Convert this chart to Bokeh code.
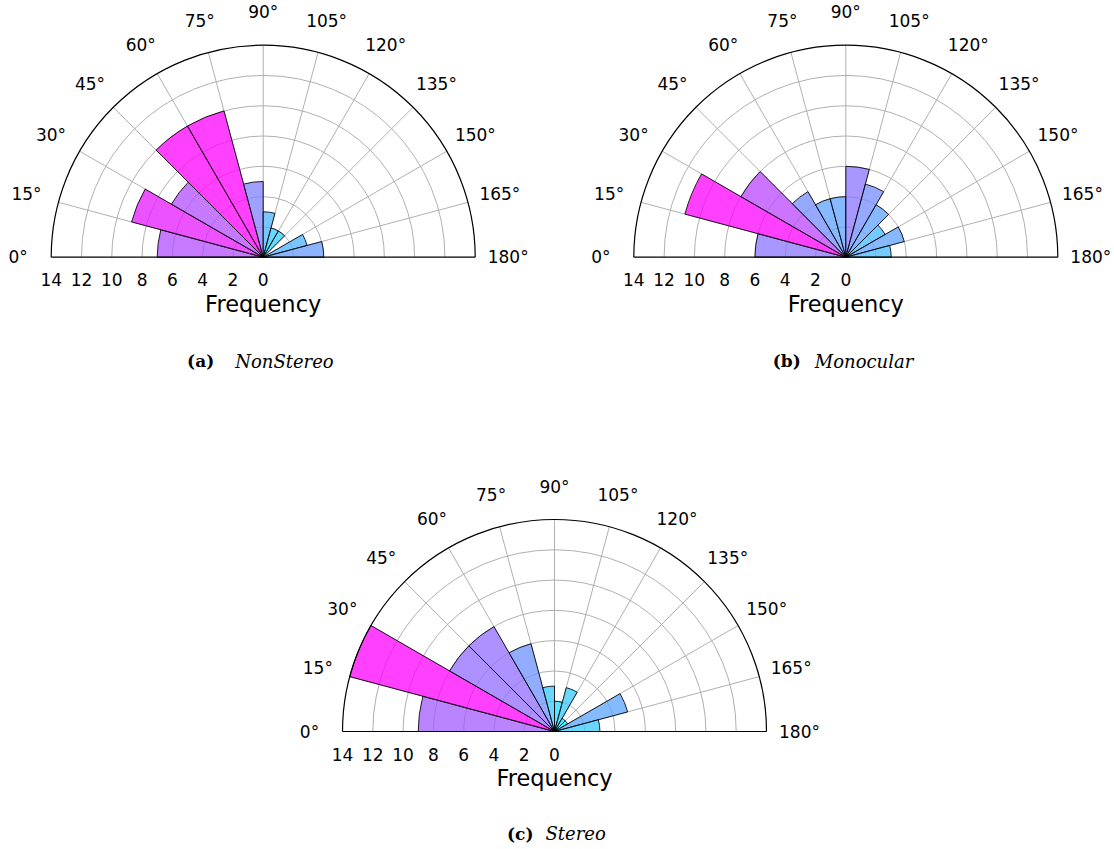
import numpy as np
from bokeh.plotting import figure
from bokeh.layouts import column, row
from bokeh.models import Range1d
from bokeh.core.properties import value
from bokeh.embed import file_html
from bokeh.resources import INLINE

# ---------------- data ----------------
bin_edges_deg = [0, 15, 30, 45, 60, 75, 90, 105, 120, 135, 150, 165, 180]
nonstereo = [7, 9, 7, 10, 10, 5, 3, 2, 2, 0, 3, 4]
monocular = [6, 11, 8, 5, 4, 4, 6, 5, 4, 3, 4, 3]
stereo = [9, 14, 8, 8, 6, 3, 2, 3, 1, 1, 5, 3]
theta_ticks = [0, 15, 30, 45, 60, 75, 90, 105, 120, 135, 150, 165, 180]
theta_labels = [f"{t}\u00b0" for t in theta_ticks]
r_ticks = [0, 2, 4, 6, 8, 10, 12, 14]
r_labels = [str(r) for r in r_ticks]
r_max = 14
x_label = "Frequency"
panel_tags = ["(a)", "(b)", "(c)"]
panel_names = ["NonStereo", "Monocular", "Stereo"]

# ---------------- layout ----------------
S = 212 / 14.0  # px per frequency unit
GRID = "#b0b0b0"
SANS = value("DejaVu Sans")


def cool(t):
    r, g, b = t, 1 - t, 1.0
    return "#%02x%02x%02x" % (int(round(r * 255)), int(round(g * 255)), int(round(b * 255)))


def panel(vals, width, height, cx, cy, tag, name, tag_end, name_start, title_y):
    p = figure(width=width, height=height,
               x_range=Range1d(-cx / S, (width - cx) / S),
               y_range=Range1d(-(height - cy) / S, cy / S),
               output_backend="svg", toolbar_location=None, min_border=0,
               x_axis_type=None, y_axis_type=None)
    p.outline_line_color = None
    p.background_fill_color = "white"
    p.border_fill_color = "white"

    th = np.radians(theta_ticks)
    # grid
    p.arc(x=0, y=0, radius=r_ticks[1:-1], start_angle=0, end_angle=np.pi,
          line_color=GRID, line_width=1)
    p.segment(x0=0, y0=0, x1=-r_max * np.cos(th[1:-1]), y1=r_max * np.sin(th[1:-1]),
              line_color=GRID, line_width=1)

    # bars
    e = np.radians(bin_edges_deg)
    vmax = max(vals)
    cols = [cool(v / vmax) for v in vals]
    p.wedge(x=0, y=0, radius=vals, start_angle=np.pi - e[1:], end_angle=np.pi - e[:-1],
            fill_color=cols, fill_alpha=0.75, line_color="black", line_alpha=0.85,
            line_width=1)

    # spines
    p.arc(x=0, y=0, radius=r_max, start_angle=0, end_angle=np.pi,
          line_color="black", line_width=1.2)
    p.segment(x0=-r_max, y0=0, x1=r_max, y1=0, line_color="black", line_width=1.2)

    # angle labels
    rl = 245 / S
    p.text(x=-rl * np.cos(th), y=rl * np.sin(th), text=theta_labels,
           text_font=SANS, text_font_size="17px", text_align="center",
           text_baseline="middle", text_color="black")
    # radial tick labels
    p.text(x=[-r for r in r_ticks], y=[-22.5 / S] * len(r_ticks), text=r_labels,
           text_font=SANS, text_font_size="17px", text_align="center",
           text_baseline="alphabetic", text_color="black")
    # axis label
    p.text(x=[0], y=[-46.5 / S], text=[x_label], text_font=SANS, text_font_size="22.5px",
           text_align="center", text_baseline="alphabetic", text_color="black")
    # caption
    p.text(x=[tag_end / S], y=[title_y / S], text=[tag], text_font=value("DejaVu Serif"),
           text_font_style="bold", text_font_size="17px", text_align="right",
           text_baseline="alphabetic", text_color="black")
    p.text(x=[name_start / S], y=[title_y / S], text=[name], text_font=value("DejaVu Serif"),
           text_font_style="italic", text_font_size="18px", text_align="left",
           text_baseline="alphabetic", text_color="black")
    return p


pa = panel(nonstereo, 557, 386, 262.7, 256.7, panel_tags[0], panel_names[0], -49, -28, -104)
pb = panel(monocular, 557, 386, 288.3, 256.7, panel_tags[1], panel_names[1], -45, -31, -104)
pc = panel(stereo, 1114, 463, 554, 345, panel_tags[2], panel_names[2], -21, -9, -102)

layout = column(row(pa, pb, spacing=0), pc, spacing=0)
open("out.html", "w").write(file_html(layout, INLINE))
